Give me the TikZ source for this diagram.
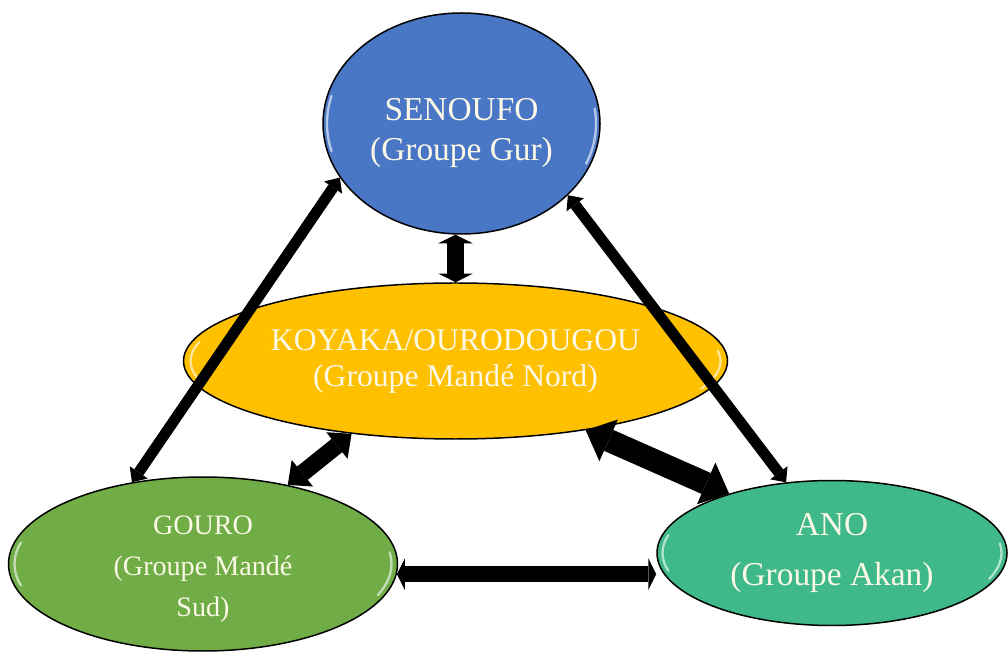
\documentclass[tikz,border=0pt]{standalone}
\usepackage{fontspec}
\setmainfont{Liberation Serif}
\usetikzlibrary{shapes.geometric,arrows.meta}
\definecolor{gurblue}{HTML}{4A76C6}
\definecolor{nordgold}{HTML}{FFC000}
\definecolor{sudgreen}{HTML}{70AD47}
\definecolor{akanteal}{HTML}{3FB98A}
\definecolor{cream}{HTML}{FBF8E6}
\newcommand{\shine}[3]{%
  \draw[gloss] (#1.center) ++(165:#2cm and #3cm) arc[start angle=165, end angle=195, x radius=#2cm, y radius=#3cm];
  \draw[gloss] (#1.center) ++(-22:#2cm and #3cm) arc[start angle=-22, end angle=8, x radius=#2cm, y radius=#3cm];}
\begin{document}
\begin{tikzpicture}[
  groupe/.style={ellipse, draw=black, line width=0.85pt, inner sep=0pt, text=cream, align=center},
  relation/.style={line width=#1, >={Triangle[length=0pt 1.1, width=0pt 2, line width=0pt]}, <->},
  flatrelation/.style={line width=#1, >={Triangle[length=0pt 0.5, width=0pt 2, line width=0pt]}, <->},
  gloss/.style={white, opacity=0.6, line width=1.3pt, line cap=round}
]
\useasboundingbox (0,0) rectangle (20.16,13.02);

\node[groupe, fill=gurblue, minimum width=5.54cm, minimum height=4.42cm, text height=46.5pt,
  font=\fontsize{19}{22.8}\selectfont] (senoufo) at (9.23,10.55) {SENOUFO\\(Groupe Gur)};
\node[groupe, fill=nordgold, minimum width=10.88cm, minimum height=3.12cm,
  font=\fontsize{18}{20.5}\selectfont] (koyaka) at (9.11,5.80) {KOYAKA/OURODOUGOU\\(Groupe Mandé Nord)};
\node[groupe, fill=sudgreen, minimum width=7.78cm, minimum height=3.48cm, text height=63.5pt,
  font=\fontsize{16}{23.3}\selectfont] (gouro) at (4.06,1.74) {GOURO\\(Groupe Mandé\\Sud)};
\node[groupe, fill=akanteal, minimum width=7.0cm, minimum height=2.9cm,
  font=\fontsize{19}{27.9}\selectfont] (ano) at (16.64,1.96) {ANO\\(Groupe Akan)};

\shine{senoufo}{2.69}{2.14}
\shine{koyaka}{5.3}{1.48}
\shine{gouro}{3.77}{1.66}
\shine{ano}{3.39}{1.38}

\draw[relation=6.2pt] (senoufo.204) -- (gouro.131);
\draw[relation=6.2pt] (senoufo.326) -- (ano.123);
\draw[flatrelation=9.7pt] (senoufo.south -| koyaka.north) -- (koyaka.north);
\draw[relation=9.7pt] (koyaka.215) -- (gouro.43);
\draw[relation=13pt] (koyaka.332) -- (ano.150);
\draw[flatrelation=9.1pt] (gouro.-3) -- (gouro.-3 -| ano.west);
\end{tikzpicture}
\end{document}
